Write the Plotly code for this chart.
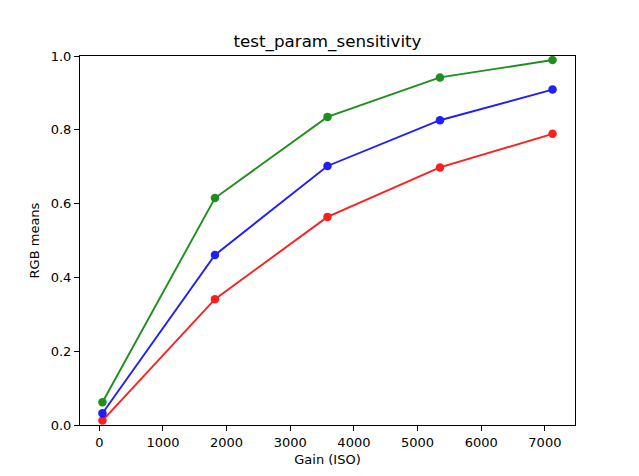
import plotly.graph_objects as go

gain = [50, 1817, 3585, 5352, 7120]
red_means = [0.012, 0.341, 0.564, 0.698, 0.789]
green_means = [0.0615, 0.615, 0.835, 0.942, 0.989]
blue_means = [0.032, 0.461, 0.702, 0.826, 0.909]

x_ticks = [0, 1000, 2000, 3000, 4000, 5000, 6000, 7000]
y_ticks = [0.0, 0.2, 0.4, 0.6, 0.8, 1.0]

fig = go.Figure()
for vals, col in [(red_means, "#ff0000"), (blue_means, "#0000ff"), (green_means, "#008000")]:
    fig.add_trace(go.Scatter(
        x=gain, y=vals, mode="lines+markers",
        line=dict(color=col, width=1.9),
        marker=dict(color=col, size=8.5),
        opacity=0.88,
        showlegend=False,
    ))

font = "DejaVu Sans, sans-serif"
fig.update_layout(
    width=639, height=476,
    margin=dict(l=80, r=64, t=56, b=51),
    paper_bgcolor="white", plot_bgcolor="white",
    font=dict(family=font, size=13, color="black"),
    title=dict(text="test_param_sensitivity", x=(80 + 575) / 2 / 639, xanchor="center",
               y=1 - 41.5 / 476, yanchor="middle", font=dict(size=16.7, family=font)),
    xaxis=dict(
        range=[-303, 7473], tickvals=x_ticks, ticktext=[str(v) for v in x_ticks],
        showgrid=False, zeroline=False, showline=True, linecolor="black", linewidth=1,
        mirror=True, ticks="outside", ticklen=5, tickcolor="black",
        title=dict(text="Gain (ISO)", font=dict(size=13), standoff=6),
    ),
    yaxis=dict(
        range=[0, 1], tickvals=y_ticks, ticktext=[f"{v:.1f}" for v in y_ticks],
        showgrid=False, zeroline=False, showline=True, linecolor="black", linewidth=1,
        mirror=True, ticks="outside", ticklen=5, tickcolor="black",
        title=dict(text="RGB means", font=dict(size=13), standoff=8),
    ),
)

fig.write_html("out.html")
